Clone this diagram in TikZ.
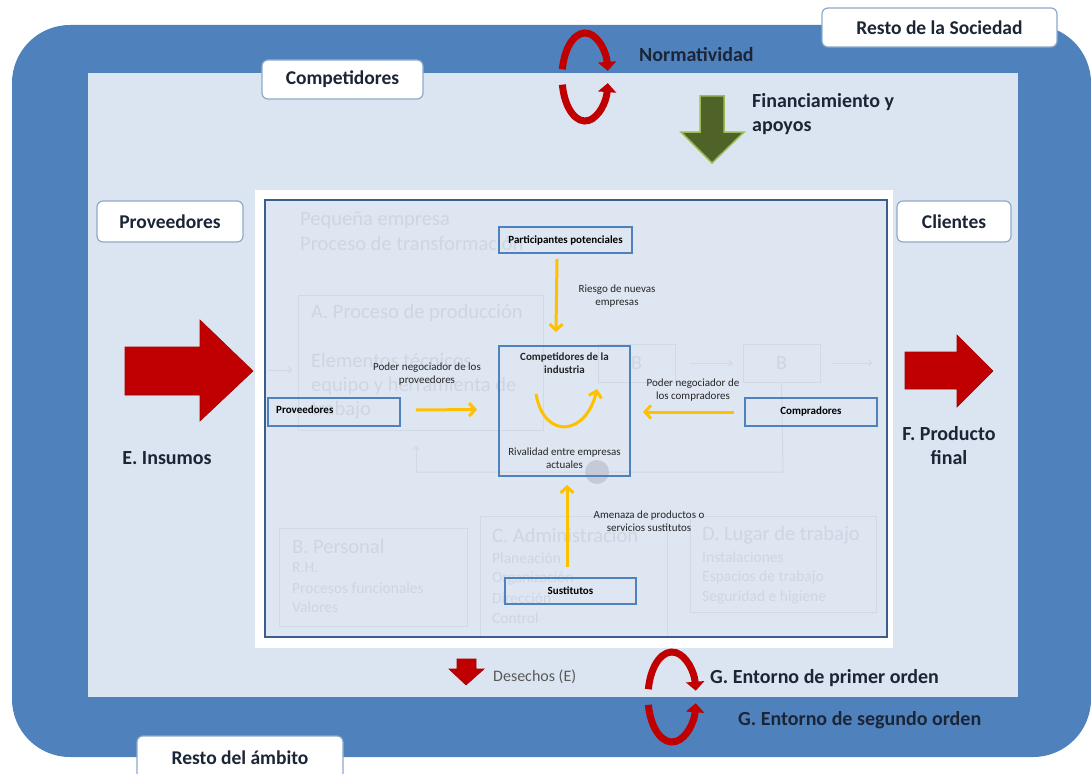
\documentclass[tikz,border=0pt]{standalone}
\usepackage{fontspec}
\setmainfont{Carlito}
\usetikzlibrary{arrows.meta,calc}
\definecolor{outerblue}{HTML}{4F81BD}
\definecolor{lightbg}{HTML}{DBE5F1}
\definecolor{panelbg}{HTML}{DEE6F2}
\definecolor{framecol}{HTML}{3A5F8C}
\definecolor{boxblue}{HTML}{4F81BD}
\definecolor{boxedge}{HTML}{8EA9C9}
\definecolor{yel}{HTML}{FFC000}
\definecolor{redarr}{HTML}{C00000}
\definecolor{greenfill}{HTML}{4F6228}
\definecolor{greenedge}{HTML}{9BBB59}
\definecolor{navytext}{HTML}{1B2536}
\definecolor{fainttext}{HTML}{CDD6E2}
\definecolor{faintline}{HTML}{D1D9E5}
\definecolor{graytext}{HTML}{595959}
\begin{document}
\begin{tikzpicture}[x=1pt,y=-1pt,
  labelbox/.style={draw=boxedge, fill=white, rounded corners=6pt, line width=1.2pt, inner sep=0pt, text=navytext, font=\bfseries\fontsize{19.5}{23}\selectfont},
  smallbox/.style={draw=boxblue, line width=1.8pt, inner sep=0pt, font=\bfseries\fontsize{11}{13}\selectfont},
  yarrow/.style={draw=yel, line width=3pt, -{Straight Barb[length=6pt,width=13pt]}},
  note/.style={font=\fontsize{11}{13.5}\selectfont, align=center, text=black!85, inner sep=0pt},
  bigtxt/.style={font=\bfseries\fontsize{20}{24}\selectfont, text=navytext, inner sep=0pt},
  faint/.style={text=fainttext, font=\fontsize{20.5}{24}\selectfont, anchor=west, inner sep=0pt},
  faintsm/.style={text=fainttext, font=\fontsize{15.5}{18}\selectfont, anchor=west, inner sep=0pt},
  faintbox/.style={draw=faintline, line width=1pt},
  faintarrow/.style={draw=faintline, line width=1pt, -{Straight Barb[length=3pt,width=6pt]}},
  loopar/.style={draw=redarr, line width=7pt, -{Triangle[length=9pt,width=18pt]}},
  redshape/.style={fill=redarr, draw=redarr!85!black, line width=0.6pt}
]
\useasboundingbox (0,0) rectangle (1091,773);
\fill[white] (0,0) rectangle (1091,773);
% environment bands
\fill[outerblue] (12,25) [rounded corners=58pt] rectangle (1091,757);
\fill[lightbg] (88,73) rectangle (1018,697);
% white panel and frame
\fill[white] (255,190) rectangle (893,648);
\fill[panelbg] (265,200) rectangle (887,637);

% faint background content of the enterprise picture
\begin{scope}
\clip (265,200) rectangle (887,637);
\node[faint] (fp1) at (300,220) {Pequeña empresa};
\node[faint] (fp2) at (300,243) {Proceso de transformación};
\draw[faintbox] (298,295) rectangle (543,430);
\node[faint] (fa1) at (311,313) {A. Proceso de producción};
\node[faint] (fa2) at (311,362) {Elementos técnicos,};
\node[faint] (fa3) at (311,386) {equipo y herramienta de};
\node[faint] (fa4) at (311,410) {trabajo};
\coordinate (fl0) at (268,370);
\coordinate (fl1) at (292,370);
\draw[faintarrow] (fl0) -- (fl1);
\node[faintbox, minimum width=77pt, minimum height=38pt, text=fainttext, font=\fontsize{20}{24}\selectfont] (fb1) at (636.5,363) {B};
\node[faintbox, minimum width=77pt, minimum height=38pt, text=fainttext, font=\fontsize{20}{24}\selectfont] (fb2) at (781.5,363) {B};
\draw[faintarrow] ([xshift=14pt]fb1.east) -- ([xshift=-10pt]fb2.west);
\draw[faintarrow] ([xshift=10pt]fb2.east) -- ([xshift=52pt]fb2.east);
\coordinate (fr0) at (783,472);
\coordinate (fr1) at (416,472);
\coordinate (fr2) at (416,446);
\draw[faintline, line width=1pt] (fb2.south) -- (fr0) -- (fr1);
\draw[faintarrow] (fr1) -- (fr2);
\fill[faintline!85!gray] (597,472) circle (12);
\draw[faintbox] (279,528) rectangle (467,626);
\node[faint] (fbp1) at (292,546) {B. Personal};
\node[faintsm] (fbp2) at (292,568) {R.H.};
\node[faintsm] (fbp3) at (292,588) {Procesos funcionales};
\node[faintsm] (fbp4) at (292,607) {Valores};
\draw[faintbox] (480,516) rectangle (667,645);
\node[faint] (fc1) at (492,535) {C. Administración};
\node[faintsm] (fc2) at (492,558) {Planeación};
\node[faintsm] (fc3) at (492,578) {Organización};
\node[faintsm] (fc4) at (492,598) {Dirección};
\node[faintsm] (fc5) at (492,618) {Control};
\draw[faintbox] (690,516) rectangle (876,612);
\node[faint] (fd1) at (702,535) {D. Lugar de trabajo};
\node[faintsm] (fd2) at (702,557) {Instalaciones};
\node[faintsm] (fd3) at (702,577) {Espacios de trabajo};
\node[faintsm] (fd4) at (702,597) {Seguridad e higiene};
\end{scope}
\draw[framecol, line width=2.5pt] (265,200) rectangle (887,637);

% Porter's five forces
\node[smallbox, minimum width=133pt, minimum height=26pt] (pp) at (565.5,240) {Participantes potenciales};
\node[smallbox, minimum width=131pt, minimum height=130pt] (comp) at (564.5,411) {};
\node[smallbox, minimum width=132pt, minimum height=28pt] (prov) at (334,412) {};
\node[font=\bfseries\fontsize{11}{13}\selectfont, anchor=west, inner sep=0pt] (provt) at (276,410) {Proveedores};
\node[smallbox, minimum width=132pt, minimum height=28pt] (compr) at (811,412) {Compradores};
\node[smallbox, minimum width=131pt, minimum height=26pt] (sust) at (570.5,591) {Sustitutos};

\node[note, font=\bfseries\fontsize{11}{13.5}\selectfont] (compt) at (564.5,363) {Competidores de la\\industria};
\node[note] (rival) at (564.5,458) {Rivalidad entre empresas\\actuales};
\coordinate (u0) at (536,394);
\coordinate (u1) at (597,389);
\draw[yarrow] (u0) .. controls (544,440) and (586,436) .. (u1);

\draw[yarrow] ([xshift=-8.5pt,yshift=-5pt]pp.south) -- ([xshift=-8.5pt,yshift=13pt]comp.north);
\draw[yarrow] ([xshift=15pt,yshift=2pt]prov.east) -- ([xshift=-21pt,yshift=1.5pt]comp.west);
\draw[yarrow] ([xshift=-10pt]compr.west) -- ([xshift=12pt,yshift=-1pt]comp.east);
\draw[yarrow] ([xshift=-3.5pt,yshift=10pt]sust.north) -- ([xshift=2.5pt,yshift=-8pt]comp.south);

\node[note] (riesgo) at (617,296) {Riesgo de nuevas\\empresas};
\node[note] (pnp) at (427,374) {Poder negociador de los\\proveedores};
\node[note] (pnc) at (693,390) {Poder negociador de\\los compradores};
\node[note] (amen) at (649,521) {Amenaza de productos o\\servicios sustitutos};

% white labels
\node[labelbox, minimum width=235pt, minimum height=39pt] (rs) at (939.5,27.5) {Resto de la Sociedad};
\node[labelbox, minimum width=161pt, minimum height=39pt] (cp) at (342.5,79.5) {Competidores};
\node[labelbox, minimum width=146pt, minimum height=41pt] (pv) at (170,221.5) {Proveedores};
\node[labelbox, minimum width=114pt, minimum height=41pt] (cl) at (954,221.5) {Clientes};
\node[labelbox, minimum width=206pt, minimum height=44pt] (ra) at (240,758) {Resto del ámbito};

% big arrows
\filldraw[redshape] (125,347) -- (200,347) -- (200,320) -- (253,371) -- (200,421) -- (200,395) -- (125,395) -- cycle;
\filldraw[redshape] (905,352) -- (957,352) -- (957,335) -- (993,371) -- (957,407) -- (957,389) -- (905,389) -- cycle;
\node[bigtxt] (ins) at (167,458) {E. Insumos};
\node[bigtxt, align=center] (pf) at (949,446) {F. Producto\\final};

% green arrow
\filldraw[fill=greenfill, draw=greenedge, line width=1.5pt] (700,96) -- (724,96) -- (724,132) -- (744,132) -- (712,163) -- (681,132) -- (700,132) -- cycle;
\node[bigtxt, anchor=west, align=left] (fin) at (752,114) {Financiamiento y\\apoyos};
\node[bigtxt, anchor=west] (norm) at (639,55) {Normatividad};

% circular arrows
\coordinate (c1) at (585,77);
\draw[loopar] ([shift={(190:23 and 44)}]c1) arc[start angle=190, end angle=352, x radius=23, y radius=44];
\draw[loopar] ([shift={(170:23 and 44)}]c1) arc[start angle=170, end angle=8, x radius=23, y radius=44];
\coordinate (c2) at (672,697);
\draw[loopar] ([shift={(190:24 and 45)}]c2) arc[start angle=190, end angle=352, x radius=24, y radius=45];
\draw[loopar] ([shift={(170:24 and 45)}]c2) arc[start angle=170, end angle=8, x radius=24, y radius=45];

% bottom
\filldraw[redshape] (457,659) -- (476,659) -- (476,669) -- (484,669) -- (466,685) -- (449,669) -- (457,669) -- cycle;
\node[anchor=west, inner sep=0pt, text=graytext, font=\fontsize{16}{19}\selectfont] (des) at (493,677) {Desechos (E)};
\node[bigtxt, anchor=west] (g1) at (710,678) {G. Entorno de primer orden};
\node[bigtxt, anchor=west] (g2) at (738,720) {G. Entorno de segundo orden};
\end{tikzpicture}
\end{document}
